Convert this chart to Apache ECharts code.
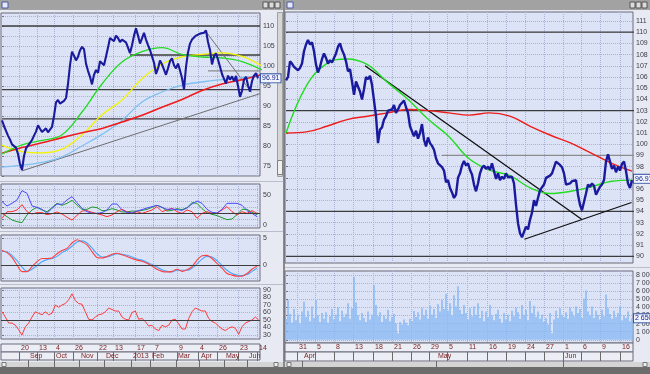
<!DOCTYPE html>
<html><head><meta charset="utf-8">
<script src="https://cdn.jsdelivr.net/npm/echarts@6/dist/echarts.min.js"></script>
<style>html,body{margin:0;padding:0;background:#e8eaf3;}#c{width:650px;height:374px;}</style>
</head><body><div id="c"></div><script>
// ---------------- DATA ----------------
// Left window (long history), bar index 0..128
const leftPrice = [86.4,85.0,83.8,82.6,81.6,80.4,80.9,79.6,78.0,75.5,
74.0,77.5,79.4,79.0,80.8,81.5,82.6,83.6,85.2,84.3,
83.5,83.0,84.4,83.4,84.1,84.8,87.5,90.9,91.5,90.6,
90.9,91.3,92.0,95.5,100.2,103.6,102.6,101.4,102.3,103.9,
104.8,104.2,100.6,98.8,97.3,95.4,97.8,99.0,98.3,101.2,
100.8,100.2,102.4,104.6,107.0,106.8,106.2,107.6,107.0,106.0,
106.6,107.1,105.9,104.6,103.2,105.2,107.6,109.4,107.6,105.6,
106.9,108.3,106.6,105.2,104.0,102.4,100.8,98.0,99.4,101.4,
100.4,100.2,97.8,99.4,101.2,101.9,100.2,99.4,100.6,98.9,
97.0,94.2,99.8,103.4,105.6,106.6,106.4,107.6,107.4,108.1,
107.6,108.3,108.9,106.0,104.0,100.4,102.4,103.2,101.6,99.8,
98.0,96.8,95.6,97.6,96.6,97.4,96.2,97.5,95.0,92.3,
93.8,96.6,97.3,95.2,93.6,96.2,97.6,98.2,96.9];
const leftLastPrice = 96.91;
// moving averages, one value every 10 bars
const leftMaGreen = [78.0,80.3,81.4,82.8,88.5,95.5,101.0,103.6,104.6,102.9,102.25,102.0,101.1,99.0];
const leftMaYellow = [80.2,78.6,78.3,79.2,82.8,87.8,91.5,96.8,100.5,102.3,102.9,103.3,102.4,100.0];
const leftMaLightBlue = [74.7,75.2,75.9,77.3,80.0,82.9,86.4,91.0,93.5,95.2,96.0,96.6,97.1,97.5];
const leftMaRed = [78.2,79.6,80.8,82.1,83.3,84.4,86.0,87.7,89.7,91.6,93.9,95.5,96.6,97.9];
// horizontal levels [value, first bar]
const leftLevels = [[110,0],[102.75,64],[98.8,103],[94.1,0],[86.8,0]];
const leftLevelKinds = ['major','major','minor','major','major'];
// trend lines: [[bar, value],[bar, value]]
const leftTrends = [[[9.8,73.75],[129,93.1]], [[101.5,108.9],[124.8,93.4]]];
// oscillator panel (one value every 2.5 bars)
const oscBlue = [38.9,31.7,36.1,41.7,57.2,52.8,31.7,29.4,26.1,19.4,27.8,35,34.4,41.7,47.2,37.2,27.8,22.2,19.4,19.4,20.6,25,35,35,25,21.1,20,23.3,25.6,28.3,30.6,32.8,29.4,26.1,26.7,25.6,24.4,28.3,35,40,36.1,26.1,21.1,20,26.1,36.1,36.1,36.1,32.8,23.9,19.4,13.9];
const oscGreen = [19.4,13.9,8.3,5.6,3.9,16.7,25,29.4,25,22.2,28.9,36.1,32.8,36.1,41.1,33.3,26.1,26.1,30,28.9,23.9,24.4,27.2,25,21.7,21.7,23.3,22.8,24.4,26.1,29.4,32.8,29.4,23.3,24.4,27.2,25.6,28.9,37.2,36.1,27.2,20.6,17.8,15.6,12.2,8.9,10,17.2,26.1,26.1,21.1,17.2];
const oscRed = [11.1,22.2,22.2,25,33.9,22.2,18.3,20.6,20.6,17.2,18.9,21.7,18.3,12.8,8.3,16.1,23.3,23.9,21.1,18.9,16.7,13.9,16.7,22.2,26.1,22.2,19.4,22.2,19.4,22.2,25,30.6,22.2,25,27.8,22.2,19.4,25,22.2,11.1,19.4,22.2,19.4,19.4,25,30.6,22.2,16.7,22.2,19.4,23.9,19.4];
const oscLevel = 20;
// MACD panel (one value every 2.5 bars)
const macdMain = [2.7,2.3,1.4,0,-1.25,-1.25,-0.3,0.6,1.2,1.2,1.3,2.1,2.7,3.1,4.1,4.7,4.3,3.75,2.5,1.4,1.3,1.6,2.0,2.2,1.9,1.6,1.2,0.9,0.7,0.3,-0.2,-0.8,-1.2,-1.3,-1.2,-0.8,-1.2,-0.9,-0.3,0.9,1.7,1.8,1.2,0.3,-0.6,-1.6,-1.9,-2.1,-2.1,-1.6,-0.8,-0.2];
const macdSignal = [2.6,2.4,1.8,0.8,-0.4,-1.2,-0.8,-0.1,0.6,1.0,1.2,1.6,2.3,2.8,3.5,4.3,4.5,4.1,3.2,2.1,1.5,1.5,1.8,2.1,2.0,1.8,1.5,1.1,0.9,0.5,0.1,-0.4,-0.9,-1.2,-1.3,-1.0,-1.0,-1.0,-0.6,0.2,1.1,1.6,1.5,0.8,-0.1,-1.0,-1.6,-1.9,-2.0,-1.8,-1.2,-0.6];
// RSI panel (one value every 5/3 bars)
const rsi = [61,54,46,46,43,37,30,41,46,54,61,59,57,61,57,59,70,67,70,72,77,85,76,72,71,61,51,50,54,57,58,61,66,64,62,62,54,51,50,60,62,51,52,48,42,43,38,36,43,41,43,50,51,45,38,38,52,61,66,64,62,62,52,48,46,42,38,36,39,41,39,31,41,46,48,50,54,50];
const rsiLevel = 50;
// date strip of the left window (bar index of each cell start)
const leftDayTicks = [8.5,17.5,26,35.5,47.5,55.5,66.5,75.5,87.5,98,107.5,118,127.5];
const leftDayLabels = ['20','13','4','26','22','13','17','7','9','4','26','23','14'];
const leftMonthTicks = [13,26,38.5,51,64.5,74,87,98.5,111,122.5];
const leftMonthLabels = ['Sep','Oct','Nov','Dec','2013','Feb','Mar','Apr','May','Jun'];
const leftPriceLabels = [75,80,85,90,95,100,105,110];
const leftPriceGrid = [72.5,75,77.5,80,82.5,85,87.5,90,92.5,95,97.5,100,102.5,105,107.5,110,112.5];
const oscLabels = [0,50];
const macdLabels = [0,5];
const rsiLabels = [30,40,50,60,70,80,90];

// Right window (recent history), bar index 0..173
const rightPrice = [105.7,106.0,107.4,107.2,106.9,106.9,106.6,106.8,107.2,108.3,
108.9,109.3,108.9,109.1,108.3,107.1,106.4,106.9,107.6,108.1,
107.7,107.2,107.5,107.3,107.7,108.1,108.7,109.0,108.4,108.0,
107.4,106.5,106.7,105.6,104.4,105.6,105.7,104.7,104.0,104.9,
106.0,105.8,106.1,105.3,103.9,102.5,100.1,101.3,101.5,102.2,
102.5,103.0,103.1,103.1,103.5,102.8,103.1,103.5,103.4,103.9,
103.3,102.8,101.6,101.5,100.7,101.2,100.5,101.0,101.8,100.4,
99.8,100.6,100.1,99.85,99.5,98.75,98.3,98.45,97.95,97.65,
96.6,96.8,96.1,95.7,95.2,95.5,97.0,97.4,98.1,98.5,
98.1,98.3,97.7,97.3,96.4,95.8,96.5,97.4,97.9,98.1,
97.8,98.0,97.7,98.3,97.6,96.9,97.4,96.8,97.1,96.9,
97.4,97.05,97.0,97.1,96.5,94.6,92.95,92.05,91.7,91.75,
92.65,92.4,93.25,93.9,95.0,94.5,95.2,95.9,95.9,96.4,
97.0,96.9,97.2,97.4,97.5,98.45,98.5,98.15,97.95,97.4,
96.4,96.3,96.5,96.7,96.8,96.8,95.5,94.6,94.1,94.2,
95.6,96.4,96.2,96.5,96.3,95.5,95.6,96.2,96.4,96.8,
98.45,99.1,98.45,97.8,98.1,97.5,98.0,97.65,98.25,98.45,
97.6,96.5,96.1,96.8];
const rightLastPrice = 96.91;
const rightMaGreen = [101.0,105.2,107.2,107.6,107.1,105.5,104.0,102.2,100.7,98.7,97.7,97.2,96.1,95.6,95.8,96.2,96.7,96.8];
const rightMaRed = [101.0,101.1,101.6,102.2,102.5,102.8,103.1,103.0,102.8,102.6,102.8,102.5,101.6,100.8,100.1,99.2,98.3,97.6];
const rightLevels = [[110,0],[103,0],[99,78],[94,0],[90,0]];
const rightLevelKinds = ['major','major','minor','major','major'];
const rightTrends = [[[39.5,107.0],[147.8,93.3]], [[119.2,91.52],[172.8,94.8]]];
const volume = [2600,4900,3200,2100,3800,2400,3100,2000,3500,4700,
2800,3600,2300,4100,2700,4900,3000,2200,3300,2600,
3400,2100,2900,3800,2500,3100,4000,2300,3600,2800,
3200,4500,2600,3900,7800,4600,3000,2400,3300,2700,
2200,3500,2500,3100,6800,4300,2900,3400,2200,3000,
2600,3700,2300,2800,3200,2000,800,2200,1900,2500,
2100,1800,2600,2300,3600,2800,3400,2500,3900,3000,
3700,2600,4200,3100,3800,2700,4400,3500,4900,3800,
5700,3600,4500,3000,5500,4100,6600,3700,3200,4300,
3300,2500,3900,2900,4100,3100,4500,2700,3600,2300,
3500,2800,4300,3000,2400,3200,3700,2600,2100,3300,
2500,3100,2300,3600,2900,4000,3400,2600,4300,3100,
3700,2400,4800,3300,4200,2800,3500,2600,3100,2200,
2700,1900,3300,800,2500,3600,2700,3900,3100,2800,
3400,2600,4000,3500,2900,4100,3300,3800,2700,5100,
6100,3500,3000,4100,2700,3600,3100,2500,3700,2900,
5600,3900,3200,2600,3600,2800,3300,4100,2400,3000,
2700,3500,2300,2650];
const rightDayTicks = [5.5,14.5,24,33.5,43.5,53,62.5,71.5,80.5,90.5,100.5,110,119.5,129,138.5,147.5,157,167];
const rightDayLabels = ['31','5','8','13','18','21','26','29','5','11','16','19','24','27','1','6','9','16'];
const rightMonthTicks = [8,75,138.5];
const rightMonthLabels = ['Apr','May','Jun'];
const rightPriceLabels = [90,91,92,93,94,95,96,97,98,99,100,101,102,103,104,105,106,107,108,109,110,111];
const volumeLabels = [0,1000,2000,3000,4000,5000,6000,7000,8000];

// ---------------- STYLE ----------------
const PLOT_BG = '#dde3f6', FRAME = '#6a6a7a', GRIDC = '#a7b4d8', LABELC = '#3a3a46', DATEC = '#7a2222';
const FONT = 'Liberation Sans';
const LN = leftPrice.length, RN = rightPrice.length;
const LX = [-0.5, LN], RX = [-0.5, RN - 0.5];

const pairs = (arr, step, start) => arr.map((v, k) => [start + k * step, v]);
const fmtSpace = v => String(v).replace(/\B(?=(\d{3})+(?!\d))/g, ' ');
const lookup = (ticks, labels) => v => { for (let k = 0; k < ticks.length; k++) if (Math.abs(ticks[k] - v) < 1e-6) return labels[k]; return ''; };

function grid(left, top, width, height, bg) {
  return {left, top, width, height, show: true, backgroundColor: bg || PLOT_BG, borderColor: FRAME, borderWidth: 1, containLabel: false, outerBoundsMode: 'none'};
}
const grids = [
  grid(1, 13, 259, 163), grid(1, 184, 259, 44), grid(1, 235, 259, 46), grid(1, 288, 259, 51),
  grid(1, 344, 259, 8, '#eceef5'), grid(1, 352, 259, 8, '#eceef5'),
  grid(285, 12, 348, 251), grid(285, 271, 348, 72),
  grid(285, 343, 348, 9, '#eceef5'), grid(285, 352, 348, 9, '#eceef5')
];
function plotX(gi, range, ticks) {
  return {type: 'value', gridIndex: gi, min: range[0], max: range[1], axisLine: {show: false},
    axisLabel: {show: false}, axisTick: {show: false, customValues: ticks},
    splitLine: {show: true, lineStyle: {type: 'dotted', color: GRIDC, width: 1}}};
}
function dateX(gi, range, ticks, labels) {
  return {type: 'value', gridIndex: gi, position: 'top', min: range[0], max: range[1], axisLine: {show: false},
    axisTick: {show: true, inside: true, length: 9, customValues: ticks, lineStyle: {color: '#6a6a6a', width: 1}},
    axisLabel: {show: true, inside: true, customValues: ticks, formatter: lookup(ticks, labels), fontSize: 7, fontFamily: FONT,
      color: DATEC, align: 'left', padding: [0, 0, 0, 2], margin: 1, hideOverlap: false},
    splitLine: {show: false}};
}
function plotY(gi, min, max, labels, gridVals, fmt) {
  return {type: 'value', gridIndex: gi, position: 'right', min, max, axisLine: {show: false},
    axisTick: {show: true, length: 2, customValues: gridVals, lineStyle: {color: '#707080'}},
    axisLabel: {show: true, customValues: labels, fontSize: 7, fontFamily: FONT, color: LABELC, margin: 3, hideOverlap: false,
      formatter: fmt || (v => String(v))},
    splitLine: {show: true, lineStyle: {type: 'dotted', color: GRIDC, width: 1}}};
}
const xAxis = [
  plotX(0, LX, leftDayTicks), plotX(1, LX, leftDayTicks), plotX(2, LX, leftDayTicks), plotX(3, LX, leftDayTicks),
  dateX(4, LX, leftDayTicks, leftDayLabels), dateX(5, LX, leftMonthTicks, leftMonthLabels),
  plotX(6, RX, rightDayTicks), plotX(7, RX, rightDayTicks),
  dateX(8, RX, rightDayTicks, rightDayLabels), dateX(9, RX, rightMonthTicks, rightMonthLabels)
];
const yAxis = [
  plotY(0, 72.5, 113.25, leftPriceLabels, leftPriceGrid),
  plotY(1, -5, 68.3, oscLabels, [0, 10, 20, 30, 40, 50, 60]),
  plotY(2, -3, 5.6, macdLabels, [-2.5, 0, 2.5, 5]),
  plotY(3, 24.7, 92.7, rsiLabels, rsiLabels),
  {type: 'value', gridIndex: 4, show: false}, {type: 'value', gridIndex: 5, show: false},
  plotY(6, 89.4, 111.8, rightPriceLabels, rightPriceLabels),
  plotY(7, -400, 8500, volumeLabels, volumeLabels, fmtSpace),
  {type: 'value', gridIndex: 8, show: false}, {type: 'value', gridIndex: 9, show: false}
];

function line(ai, data, color, width, extra) {
  return Object.assign({type: 'line', xAxisIndex: ai, yAxisIndex: ai, data, symbol: 'none', silent: true,
    lineStyle: {color, width}, animation: false}, extra || {});
}
function levelLine(ai, v, kind) {
  return {silent: true, symbol: 'none', data: [{yAxis: v}], label: {show: false},
    lineStyle: {color: kind === 'major' ? '#3c3c3c' : '#8c8c8c', width: 1.2, type: 'solid'}};
}
function priceTag(v, text) {
  return {silent: true, symbol: 'none', data: [{yAxis: v}], lineStyle: {color: 'rgba(0,0,0,0)'},
    label: {show: true, position: 'end', distance: 1, formatter: text, fontSize: 7, fontFamily: FONT, color: '#14248c',
      backgroundColor: '#f2f5ff', borderColor: '#3a58a8', borderWidth: 1, padding: [1, 1, 0, 1]}};
}

const series = [];
// left main
leftLevels.forEach((lv, k) => series.push(line(0, [[lv[1], lv[0]], [LN, lv[0]]],
  leftLevelKinds[k] === 'major' ? '#3c3c3c' : '#8c8c8c', 1.3)));
leftTrends.forEach(t => series.push(line(0, t, '#6e6e6e', 1)));
series.push(line(0, pairs(leftMaLightBlue, 10, 0), '#7fc0f2', 1.3, {smooth: 0.4}));
series.push(line(0, pairs(leftMaYellow, 10, 0), '#f4f400', 1.3, {smooth: 0.4}));
series.push(line(0, pairs(leftMaRed, 10, 0), '#ee1c1c', 1.6, {smooth: 0.4}));
series.push(line(0, pairs(leftMaGreen, 10, 0), '#22dc22', 1.3, {smooth: 0.4}));
series.push(line(0, pairs(leftPrice, 1, 0), '#1a1a9e', 2.1, {markLine: priceTag(leftLastPrice, leftLastPrice.toFixed(2))}));
// left oscillators
series.push(line(1, pairs(oscGreen, 2.5, 0), '#1f9a2c', 1, {markLine: levelLine(1, oscLevel, 'major')}));
series.push(line(1, pairs(oscRed, 2.5, 0), '#ff3030', 1));
series.push(line(1, pairs(oscBlue, 2.5, 0), '#4a4aff', 1));
// left MACD
series.push(line(2, pairs(macdSignal, 2.5, 0), '#4aa6ff', 1.1, {smooth: 0.3, markLine: levelLine(2, 0, 'major')}));
series.push(line(2, pairs(macdMain, 2.5, 0), '#ff4040', 1.1, {smooth: 0.3}));
// left RSI
series.push(line(3, pairs(rsi, 5 / 3, 0), '#ff3a3a', 1, {markLine: levelLine(3, rsiLevel, 'major')}));
// right main
rightLevels.forEach((lv, k) => series.push(line(6, [[lv[1], lv[0]], [RN, lv[0]]],
  rightLevelKinds[k] === 'major' ? '#3c3c3c' : '#8c8c8c', 1.3)));
rightTrends.forEach(t => series.push(line(6, t, '#101010', 1.3)));
const rStep = (RN - 1) / (rightMaRed.length - 1);
series.push(line(6, pairs(rightMaRed, rStep, 0), '#ee1c1c', 1.4, {smooth: 0.4}));
series.push(line(6, pairs(rightMaGreen, rStep, 0), '#22dc22', 1.4, {smooth: 0.4}));
series.push(line(6, pairs(rightPrice, 1, 0), '#1a1a9e', 2.4, {markLine: priceTag(rightLastPrice, rightLastPrice.toFixed(2))}));
// right volume
series.push({type: 'bar', xAxisIndex: 7, yAxisIndex: 7, data: pairs(volume, 1, 0), barWidth: 1.5, silent: true, animation: false,
  itemStyle: {color: '#86b8f2'}, markLine: priceTag(volume[volume.length - 1], fmtSpace(volume[volume.length - 1]))});

// window chrome (static decoration)
const chrome = [
  {type: 'rect', shape: {x: 0, y: 0, width: 283, height: 10}, style: {fill: '#a2a2a2'}},
  {type: 'rect', shape: {x: 285, y: 0, width: 365, height: 10}, style: {fill: '#a2a2a2'}},
  {type: 'rect', shape: {x: 2, y: 2, width: 6, height: 6}, style: {fill: '#e6e8ff', stroke: '#4a5aa0'}},
  {type: 'rect', shape: {x: 287, y: 2, width: 6, height: 6}, style: {fill: '#e6e8ff', stroke: '#4a5aa0'}},
  {type: 'rect', shape: {x: 263, y: 2, width: 5, height: 6}, style: {fill: '#dcdcdc', stroke: '#555'}},
  {type: 'rect', shape: {x: 269, y: 2, width: 5, height: 6}, style: {fill: '#dcdcdc', stroke: '#555'}},
  {type: 'rect', shape: {x: 275, y: 2, width: 5, height: 6}, style: {fill: '#dcdcdc', stroke: '#555'}},
  {type: 'rect', shape: {x: 630, y: 2, width: 5, height: 6}, style: {fill: '#dcdcdc', stroke: '#555'}},
  {type: 'rect', shape: {x: 636, y: 2, width: 5, height: 6}, style: {fill: '#dcdcdc', stroke: '#555'}},
  {type: 'rect', shape: {x: 642, y: 2, width: 5, height: 6}, style: {fill: '#dcdcdc', stroke: '#555'}},
  {type: 'rect', shape: {x: 283, y: 0, width: 2, height: 374}, style: {fill: '#8a8a8a'}},
  {type: 'rect', shape: {x: 277.5, y: 12.5, width: 5, height: 164}, style: {fill: '#d6d6d6', stroke: '#a0a0a0'}},
  {type: 'rect', shape: {x: 277.5, y: 160.5, width: 5, height: 14}, style: {fill: '#f0f0f0', stroke: '#808080'}},
  {type: 'line', shape: {x1: 0, y1: 181.5, x2: 283, y2: 181.5}, style: {stroke: '#b9bdcc'}},
  {type: 'line', shape: {x1: 0, y1: 231.5, x2: 283, y2: 231.5}, style: {stroke: '#b9bdcc'}},
  {type: 'line', shape: {x1: 0, y1: 284.5, x2: 283, y2: 284.5}, style: {stroke: '#b9bdcc'}},
  {type: 'line', shape: {x1: 285, y1: 267.5, x2: 650, y2: 267.5}, style: {stroke: '#b9bdcc'}},
  {type: 'rect', shape: {x: 0, y: 362, width: 283, height: 5}, style: {fill: '#d4d4d4'}},
  {type: 'rect', shape: {x: 285, y: 362, width: 365, height: 5}, style: {fill: '#d4d4d4'}},
  {type: 'rect', shape: {x: 2, y: 362.5, width: 4, height: 4}, style: {fill: '#eee', stroke: '#777'}},
  {type: 'rect', shape: {x: 274, y: 362.5, width: 4, height: 4}, style: {fill: '#eee', stroke: '#777'}},
  {type: 'rect', shape: {x: 287, y: 362.5, width: 4, height: 4}, style: {fill: '#eee', stroke: '#777'}},
  {type: 'rect', shape: {x: 643, y: 362.5, width: 4, height: 4}, style: {fill: '#eee', stroke: '#777'}},
  {type: 'rect', shape: {x: 0, y: 367, width: 650, height: 7}, style: {fill: '#6c6c6c'}}
];

const chart = echarts.init(document.getElementById('c'), null, {renderer: 'canvas', width: 650, height: 374});
chart.setOption({
  animation: false,
  backgroundColor: '#e8eaf3',
  grid: grids, xAxis, yAxis, series,
  graphic: {elements: chrome.map(e => Object.assign({silent: true, z: -1, zlevel: 0}, e))}
});
</script></body></html>
